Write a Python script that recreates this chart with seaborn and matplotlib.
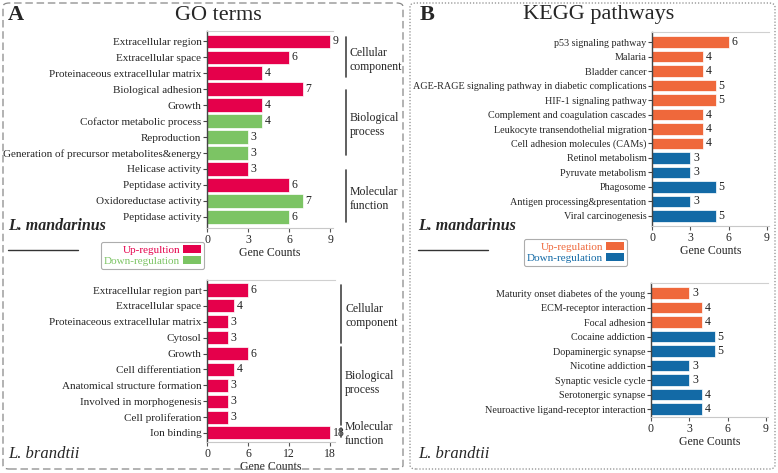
import numpy as np
import pandas as pd
import seaborn as sns
import matplotlib.pyplot as plt
from matplotlib.patches import FancyBboxPatch, Patch
from matplotlib.lines import Line2D

# GO terms, L. mandarinus
go_lm_terms = ["Extracellular region", "Extracellular space", "Proteinaceous extracellular matrix",
               "Biological adhesion", "Growth", "Cofactor metabolic process", "Reproduction",
               "Generation of precursor metabolites&energy", "Helicase activity", "Peptidase activity",
               "Oxidoreductase activity", "Peptidase activity"]
go_lm_counts = [9, 6, 4, 7, 4, 4, 3, 3, 3, 6, 7, 6]
go_lm_reg = ["Up", "Up", "Up", "Up", "Up", "Down", "Down", "Down", "Up", "Up", "Down", "Down"]

# GO terms, L. brandtii
go_lb_terms = ["Extracellular region part", "Extracellular space", "Proteinaceous extracellular matrix",
               "Cytosol", "Growth", "Cell differentiation", "Anatomical structure formation",
               "Involved in morphogenesis", "Cell proliferation", "Ion binding"]
go_lb_counts = [6, 4, 3, 3, 6, 4, 3, 3, 3, 18]
go_lb_reg = ["Up"] * 10

# KEGG pathways, L. mandarinus
kegg_lm_terms = ["p53 signaling pathway", "Malaria", "Bladder cancer",
                 "AGE-RAGE signaling pathway in diabetic complications", "HIF-1 signaling pathway",
                 "Complement and coagulation cascades", "Leukocyte transendothelial migration",
                 "Cell adhesion molecules (CAMs)", "Retinol metabolism", "Pyruvate metabolism",
                 "Phagosome", "Antigen processing&presentation", "Viral carcinogenesis"]
kegg_lm_counts = [6, 4, 4, 5, 5, 4, 4, 4, 3, 3, 5, 3, 5]
kegg_lm_reg = ["Up"] * 8 + ["Down"] * 5

# KEGG pathways, L. brandtii
kegg_lb_terms = ["Maturity onset diabetes of the young", "ECM-receptor interaction", "Focal adhesion",
                 "Cocaine addiction", "Dopaminergic synapse", "Nicotine addiction",
                 "Synaptic vesicle cycle", "Serotonergic synapse", "Neuroactive ligand-receptor interaction"]
kegg_lb_counts = [3, 4, 4, 5, 5, 3, 3, 4, 4]
kegg_lb_reg = ["Up"] * 3 + ["Down"] * 6

go_ticks_top = [0, 3, 6, 9]
go_ticks_bottom = [0, 6, 12, 18]
kegg_ticks = [0, 3, 6, 9]

GO_UP, GO_DOWN = "#e5004b", "#7cc464"
KEGG_UP, KEGG_DOWN = "#ef683b", "#136aa6"

sns.set_style("ticks")
plt.rcParams['font.family'] = ['Liberation Serif', 'DejaVu Serif']

W, H = 778, 473
fig = plt.figure(figsize=(W / 100, H / 100), dpi=100)


def px_rect(x0, y0, x1, y1):
    return [x0 / W, 1 - y1 / H, (x1 - x0) / W, (y1 - y0) / H]


def fx(x):
    return x / W


def fy(y):
    return 1 - y / H


def draw_bars(rect, terms, counts, reg, up, down, xmax, ticks, ylim, label_size):
    ax = fig.add_axes(px_rect(*rect))
    df = pd.DataFrame({"pos": np.arange(len(terms)), "count": counts, "reg": reg})
    sns.barplot(data=df, x="count", y="pos", hue="reg", orient="y", dodge=False,
                palette={"Up": up, "Down": down}, saturation=1, width=0.82,
                edgecolor="white", linewidth=0.5, legend=False, ax=ax)
    ax.set_yticks(range(len(terms)))
    ax.set_yticklabels(terms, fontsize=label_size)
    ax.set_ylabel("")
    ax.set_xlim(0, xmax)
    ax.set_ylim(*ylim)
    ax.set_xticks(ticks)
    ax.set_xticklabels([str(t) for t in ticks], fontsize=8.5)
    ax.set_xlabel("Gene Counts", fontsize=8.5, labelpad=1)
    for c in ax.containers:
        ax.bar_label(c, padding=2, fontsize=8.5, color="#222222")
    ax.tick_params(axis="y", length=3, width=0.8, color="#444444", pad=1)
    ax.tick_params(axis="x", length=3, width=0.8, color="#555555", pad=1)
    ax.spines["left"].set_color("#444444")
    ax.spines["left"].set_linewidth(1.0)
    ax.spines["bottom"].set_color("#c8c8c8")
    ax.spines["top"].set_visible(True)
    ax.spines["top"].set_color("#d0d0d0")
    ax.spines["right"].set_visible(False)
    return ax


draw_bars((207, 31, 333, 228), go_lm_terms, go_lm_counts, go_lm_reg, GO_UP, GO_DOWN,
          9.2, go_ticks_top, (11.69, -0.63), 8)
draw_bars((207, 280, 335, 442), go_lb_terms, go_lb_counts, go_lb_reg, GO_UP, GO_DOWN,
          18.7, go_ticks_bottom, (9.57, -0.63), 8)
draw_bars((652, 32, 769, 226), kegg_lm_terms, kegg_lm_counts, kegg_lm_reg, KEGG_UP, KEGG_DOWN,
          9.16, kegg_ticks, (12.69, -0.69), 7.3)
draw_bars((651, 283, 768, 417), kegg_lb_terms, kegg_lb_counts, kegg_lb_reg, KEGG_UP, KEGG_DOWN,
          9.16, kegg_ticks, (8.55, -0.69), 7.3)

# panel frames
fig.patches.append(FancyBboxPatch((fx(3), fy(469)), fx(400), (466 / H),
                                  boxstyle="round,pad=0,rounding_size=0.008",
                                  transform=fig.transFigure, fill=False,
                                  ec="#888888", lw=0.9, ls=(0, (6, 3))))
fig.patches.append(FancyBboxPatch((fx(410), fy(469)), fx(365), (466 / H),
                                  boxstyle="round,pad=0,rounding_size=0.008",
                                  transform=fig.transFigure, fill=False,
                                  ec="#888888", lw=0.9, ls=(0, (1, 1.5))))

# titles
fig.text(fx(8), fy(15), "A", fontsize=16, fontweight="bold", va="center")
fig.text(fx(218), fy(15), "GO terms", fontsize=16, ha="center", va="center")
fig.text(fx(420), fy(15), "B", fontsize=16, fontweight="bold", va="center")
fig.text(fx(599), fy(15), "KEGG pathways", fontsize=16, ha="center", va="center")

# species labels and short rules
for x0 in (8, 418):
    fig.text(fx(x0), fy(226), "L. mandarinus", fontsize=11.5, fontweight="bold",
             fontstyle="italic", va="center")
    fig.text(fx(x0), fy(454), "L. brandtii", fontsize=12, fontstyle="italic", va="center")
    fig.add_artist(Line2D([fx(x0), fx(x0 + 70)], [fy(250), fy(250)], color="#333333", lw=1.0))


# GO category brackets
def bracket(x, y0, y1, lines, tx, ty):
    fig.add_artist(Line2D([fx(x), fx(x)], [fy(y0), fy(y1)], color="#444444", lw=1.2))
    fig.text(fx(tx), fy(ty), lines, fontsize=8.5, va="center", linespacing=1.15)


bracket(346, 37, 77, "Cellular\ncomponent", 350, 60)
bracket(346, 90, 155, "Biological\nprocess", 350, 125)
bracket(346, 170, 222, "Molecular\nfunction", 350, 199)
bracket(341, 285, 343, "Cellular\ncomponent", 345, 316)
bracket(341, 347, 425, "Biological\nprocess", 345, 383)
bracket(341, 428, 437, "Molecular\nfunction", 345, 434)


# legends
def legend(up, down, up_label, x, y):
    handles = [Patch(facecolor=up, edgecolor="none"), Patch(facecolor=down, edgecolor="none")]
    leg = fig.legend(handles, [up_label, "Down-regulation"], loc="upper left",
                     bbox_to_anchor=(fx(x), fy(y)), markerfirst=False, fontsize=8,
                     labelcolor=[up, down], handlelength=1.6, handleheight=0.7,
                     handletextpad=0.3, labelspacing=0.15, borderpad=0.3,
                     fancybox=True, frameon=True, edgecolor="#999999")
    leg.get_frame().set_linewidth(0.8)


legend(GO_UP, GO_DOWN, "Up-regultion", 95, 236)
legend(KEGG_UP, KEGG_DOWN, "Up-regulation", 518, 233)

fig.savefig("out.png", dpi=100)
